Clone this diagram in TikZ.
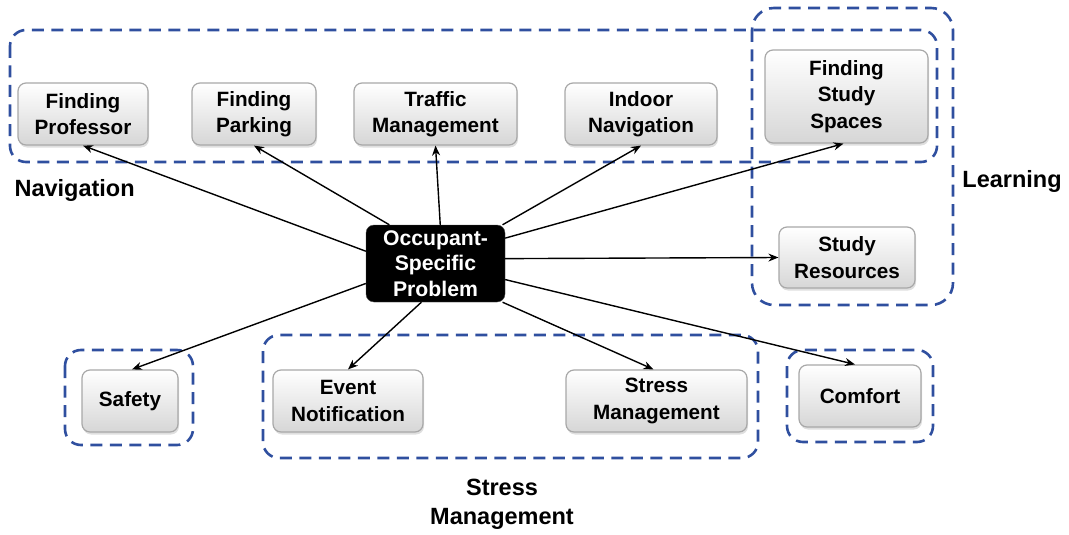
\documentclass[tikz,border=0pt]{standalone}
\usepackage{fontspec}
\setmainfont{Liberation Sans}
\usetikzlibrary{arrows.meta,shadows}
\definecolor{grpblue}{HTML}{2F4F9F}
\definecolor{boxedge}{HTML}{A8A8A8}
\tikzset{
  item/.style={rounded corners=8pt, draw=boxedge, line width=1.2pt,
    top color=white, bottom color=black!16, align=center, inner sep=0pt,
    font=\fontsize{20.7}{26.5}\selectfont\bfseries,
    drop shadow={shadow xshift=1pt, shadow yshift=-2.5pt, opacity=0.25}},
  core/.style={rounded corners=8pt, fill=black, draw=black!70, align=center,
    inner sep=0pt, text=white, font=\fontsize{21.2}{25.5}\selectfont\bfseries},
  group/.style={draw=grpblue, line width=2.6pt, dash pattern=on 12pt off 7.5pt,
    rounded corners=16pt},
  grouplabel/.style={font=\fontsize{23.5}{29}\selectfont\bfseries, align=center},
  link/.style={line width=1.4pt, -{Stealth[length=10pt,width=8pt]}}
}
\begin{document}
\begin{tikzpicture}[x=1pt,y=-1pt]
\useasboundingbox (0,0) rectangle (1069,535);

% grouping frames
\draw[group] (10,30) rectangle (937,162);
\draw[group, rounded corners=22pt] (752,8) rectangle (953,305);
\draw[group] (65,350) rectangle (193,445);
\draw[group] (263,335) rectangle (758,458);
\draw[group] (787,350) rectangle (933,442);

% group labels
\node[grouplabel, anchor=west] (lnav) at (11,190) {Navigation};
\node[grouplabel] (llearn) at (1012,181) {Learning};
\node[grouplabel] (lstress) at (502,504) {Stress\\Management};

% problem categories
\node[item, minimum width=130pt, minimum height=62pt] (prof) at (83,114) {Finding\\Professor};
\node[item, minimum width=124pt, minimum height=62pt] (park) at (254,114) {Finding\\Parking};
\node[item, minimum width=163pt, minimum height=62pt] (traffic) at (435.5,114) {Traffic\\Management};
\node[item, minimum width=152pt, minimum height=62pt] (indoor) at (641,114) {Indoor\\Navigation};
\node[item, minimum width=163pt, minimum height=93pt] (spaces) at (846.5,96.5) {Finding\\Study\\Spaces};
\node[item, minimum width=136pt, minimum height=61pt] (res) at (847,257.5) {Study\\Resources};
\node[item, minimum width=96pt, minimum height=62pt] (safety) at (130,401) {Safety};
\node[item, minimum width=150pt, minimum height=62pt] (event) at (348,401) {Event\\Notification};
\node[item, minimum width=181pt, minimum height=62pt] (stress) at (656.5,401) {Stress\\Management};
\node[item, minimum width=122pt, minimum height=62pt] (comfort) at (860,396) {Comfort};

% central node
\node[core, minimum width=139pt, minimum height=77pt] (occ) at (435.5,263.5) {Occupant-\\Specific\\Problem};

% connectors
\draw[link] (occ.170.7) -- (prof.south);
\draw[link] (occ.140.4) -- (park.south);
\draw[link] (occ.83.3) -- (traffic.south);
\draw[link] (occ.30.8) -- (indoor.south);
\draw[link] (occ.20.7) -- ([xshift=-3pt]spaces.south);
\draw[link] (occ.4.9) -- (res.west);
\draw[link] (occ.-13.4) -- ([xshift=-5pt]comfort.north);
\draw[link] (occ.-30.8) -- ([xshift=-3pt]stress.north);
\draw[link] (occ.250.7) -- (event.north);
\draw[link] (occ.196.9) -- ([xshift=2pt]safety.north);
\end{tikzpicture}
\end{document}
